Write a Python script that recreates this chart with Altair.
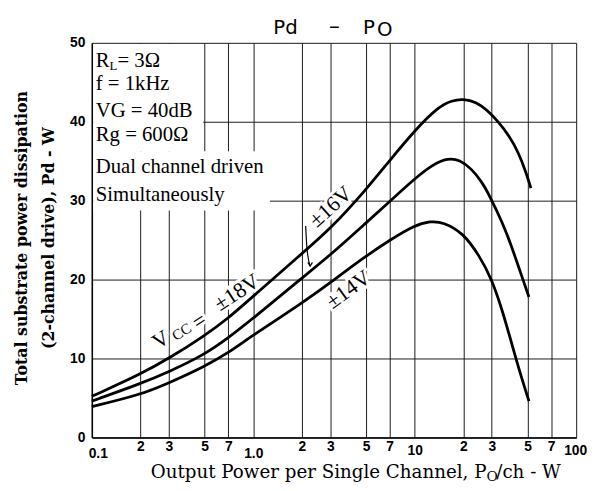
import altair as alt
import pandas as pd

# ---------------- data ----------------
PO_18 = [0.1, 0.2, 0.3, 0.5, 0.7, 1, 2, 3, 5, 7, 10, 14, 17, 20, 24, 28, 33, 38.5, 43.7, 48.9, 52.4]
PD_18 = [5.2, 8.0, 10.0, 12.9, 15.1, 17.9, 23.3, 26.4, 31.4, 35.1, 38.9, 41.9, 42.7, 42.9, 42.5, 41.5, 40.0, 38.2, 36.2, 33.6, 31.6]

PO_16 = [0.1, 0.2, 0.3, 0.5, 0.7, 1, 2, 3, 5, 7, 10, 13, 16, 19, 22.6, 26, 29, 35, 40, 45, 51]
PD_16 = [4.6, 6.8, 8.3, 10.5, 12.6, 15.1, 20.2, 23.1, 27.2, 29.9, 32.8, 34.6, 35.4, 35.2, 34.0, 32.4, 30.7, 27.2, 24.1, 21.0, 17.8]

PO_14 = [0.1, 0.2, 0.3, 0.5, 0.7, 1, 2, 3, 5, 7, 10, 12.5, 15, 20, 25, 30, 35, 40, 45, 51]
PD_14 = [3.9, 5.4, 6.9, 9.0, 10.7, 13.0, 17.0, 19.6, 23.0, 25.0, 26.9, 27.4, 27.3, 25.9, 23.1, 20.1, 16.0, 11.8, 8.1, 4.6]

SERIES = ["±18V", "±16V", "±14V"]

TICK_VALUES = [0.1, 0.2, 0.3, 0.5, 0.7, 1, 2, 3, 5, 7, 10, 20, 30, 50, 70, 100]
TICK_LABELS = ["0.1", "2", "3", "5", "7", "1.0", "2", "3", "5", "7", "10", "2", "3", "5", "7", "100"]
Y_TICKS = [0, 10, 20, 30, 40, 50]

# white areas behind the condition text (data coordinates)
MASK_X0 = [0.102, 0.102]
MASK_X1 = [0.49, 1.27]
MASK_Y0 = [49.85, 36.25]
MASK_Y1 = [36.25, 28.75]

# arrow pointing from the ±16V label to its curve
ARROW_X = [2.11, 2.15, 2.25]
ARROW_Y = [26.8, 24.0, 21.7]

W, H = 491, 400

rows = []
for name, xs_, ys_ in zip(SERIES, [PO_18, PO_16, PO_14], [PD_18, PD_16, PD_14]):
    for a, b in zip(xs_, ys_):
        rows.append({"series": name, "po": a, "pd": b})
curves_df = pd.DataFrame(rows)

conds = " : ".join(
    f"abs(datum.value - {v}) < 1e-9 ? '{l}'" for v, l in zip(TICK_VALUES, TICK_LABELS)
)
label_expr = conds + " : ''"

TICK_FONT = "Liberation Sans"

x_axis = alt.Axis(
    values=TICK_VALUES, labelExpr=label_expr, grid=True, ticks=False,
    domainColor="black", domainWidth=1.5, gridColor="#1a1a1a", gridWidth=1,
    labelFont=TICK_FONT, labelFontSize=14, labelFontWeight="bold", labelColor="black",
    labelBaseline="top", labelAngle=0, labelOverlap=False, labelFlush=False, title=None,
    labelPadding={"condition": [
        {"test": "datum.value < 0.15 || (datum.value > 0.9 && datum.value < 1.1)", "value": 9},
        {"test": "datum.value > 9 && datum.value < 11 || datum.value > 90", "value": 6}],
        "value": 2},
    labelOffset={"condition": [
        {"test": "datum.value < 0.15", "value": 6},
        {"test": "datum.value > 90", "value": -1}], "value": 0},
)
y_axis = alt.Axis(
    values=Y_TICKS, grid=True, ticks=False, domainColor="black", domainWidth=1.5,
    gridColor="#1a1a1a", gridWidth=1, labelFont=TICK_FONT, labelFontSize=14,
    labelFontWeight="bold", labelColor="black", labelPadding=7, title=None,
)
xs = alt.Scale(type="log", domain=[0.1, 100], nice=False)
ys = alt.Scale(domain=[0, 50], nice=False)

mask_df = pd.DataFrame({"x0": MASK_X0, "x1": MASK_X1, "y0": MASK_Y0, "y1": MASK_Y1})
masks = alt.Chart(mask_df).mark_rect(color="white").encode(
    x=alt.X("x0:Q", scale=xs, axis=x_axis), x2="x1",
    y=alt.Y("y0:Q", scale=ys, axis=y_axis), y2="y1",
)

curves = alt.Chart(curves_df).mark_line(color="black", strokeWidth=2.8, interpolate="basis").encode(
    x=alt.X("po:Q", scale=xs, axis=x_axis),
    y=alt.Y("pd:Q", scale=ys, axis=y_axis),
    detail="series:N",
)

arrow_df = pd.DataFrame({"x": ARROW_X, "y": ARROW_Y})
arrow_line = alt.Chart(arrow_df).mark_line(color="black", strokeWidth=1.2, interpolate="monotone").encode(
    x=alt.X("x:Q", scale=xs, axis=x_axis), y=alt.Y("y:Q", scale=ys, axis=y_axis)
)
arrow_head = alt.Chart(arrow_df.tail(1)).mark_point(
    shape="M-0.6,-1L0,0L0.6,-1", filled=False, color="black", strokeWidth=1.2, size=60, opacity=1
).encode(x=alt.X("x:Q", scale=xs, axis=x_axis), y=alt.Y("y:Q", scale=ys, axis=y_axis))

SERIF = "Liberation Serif"
WIDE_SERIF = "DejaVu Serif"
SANS = "DejaVu Sans"


def txt(s, x, y, size, font, align="left", baseline="alphabetic", angle=0, weight="normal", halo=False):
    d = pd.DataFrame({"t": [s]})
    layers = []
    kw = dict(align=align, baseline=baseline, angle=angle, font=font, fontSize=size, fontWeight=weight)
    if halo:
        layers.append(alt.Chart(d).mark_text(stroke="white", strokeWidth=6, color="white", **kw).encode(
            text="t:N", x=alt.value(x), y=alt.value(y)))
    layers.append(alt.Chart(d).mark_text(color="black", **kw).encode(
        text="t:N", x=alt.value(x), y=alt.value(y)))
    return layers


halos = []
texts = []
# rotated curve labels
for s, x, y, size, ang in [("V", 70, 301, 22, 327), ("CC", 91, 293, 15, 327), ("=", 109, 282, 22, 327),
                           ("±18V", 147, 253, 22, 327), ("±16V", 242, 166, 22, 318),
                           ("±14V", 260, 250, 22, 324)]:
    l = txt(s, x, y, size, SERIF, align="center", baseline="middle", angle=ang, halo=True)
    halos.append(l[0])
    texts.append(l[1])

# condition block
texts += txt("R", 4, 24, 21, SERIF)
texts += txt("L", 18, 28, 13, SERIF)
texts += txt("= 3Ω", 26, 24, 21, SERIF)
for s, y in [("f = 1kHz", 48), ("VG = 40dB", 75), ("Rg = 600Ω", 100),
             ("Dual channel driven", 132), ("Simultaneously", 160)]:
    texts += txt(s, 4, y, 21, SERIF)

# chart title
texts += txt("Pd", 184, -9, 20, SANS)
texts += txt("–", 246, -10, 22, SANS, align="center")
texts += txt("P", 275, -9, 20, SANS)
texts += txt("O", 289, -7, 20, SANS)

# x-axis title
texts += txt("Output Power per Single Channel, P", 400, 441, 18.5, WIDE_SERIF, align="right")
texts += txt("O", 400, 444, 14, WIDE_SERIF)
texts += txt("/ch - W", 410, 441, 18.5, WIDE_SERIF)

# y-axis title
texts += txt("Total substrate power dissipation", -66, 198, 16, WIDE_SERIF, align="center", angle=270, weight="bold")
texts += txt("(2-channel drive), Pd - W", -38, 198, 16, WIDE_SERIF, align="center", angle=270, weight="bold")

chart = alt.layer(masks, *halos, curves, arrow_line, arrow_head, *texts).properties(
    width=W, height=H,
    autosize=alt.AutoSizeParams(type="none"),
    padding={"left": 85, "top": 32, "right": 12, "bottom": 50},
    background="white",
).configure_view(strokeWidth=0)

chart.save("out.html", embed_options={"renderer": "svg", "actions": False})
